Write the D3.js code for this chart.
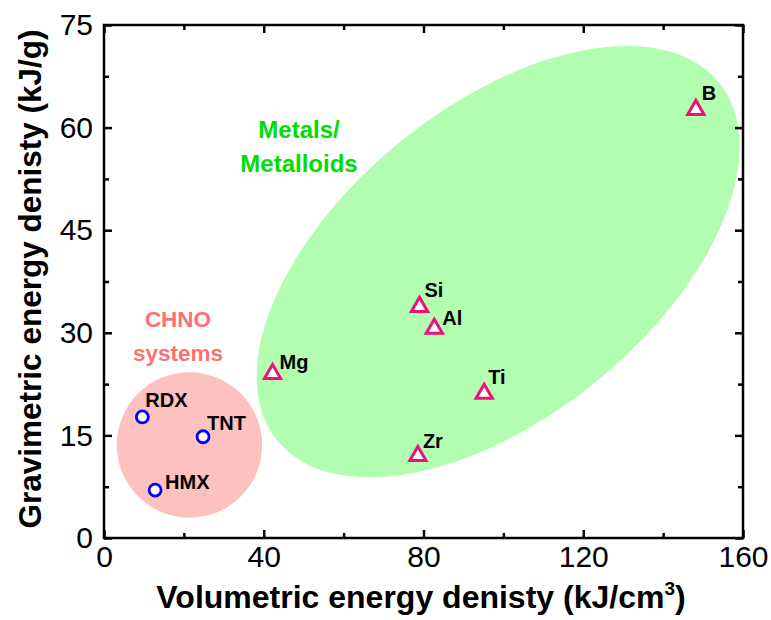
<!DOCTYPE html>
<html>
<head>
<meta charset="utf-8">
<script src="https://cdn.jsdelivr.net/npm/d3@7"></script>
<style>
  body { margin: 0; background: #fff; }
  svg text { font-family: Arial, "Liberation Sans", sans-serif; }
</style>
</head>
<body>
<div id="chart"></div>
<script>
const w = 771, h = 620;
const margin = {top: 25, right: 28, bottom: 82, left: 104};

// CHNO explosives: volumetric (kJ/cm3) and gravimetric (kJ/g)
const chnoNames = ['RDX', 'TNT', 'HMX'];
const chnoVol = [9.6, 24.8, 12.8];
const chnoGrav = [17.7, 14.8, 7.0];

// metals / metalloids
const metalNames = ['Mg', 'Si', 'Al', 'Ti', 'Zr', 'B'];
const metalVol = [42.2, 79.0, 82.7, 95.2, 78.6, 148.2];
const metalGrav = [24.3, 34.1, 30.9, 21.4, 12.3, 62.9];

const xTicks = [0, 40, 80, 120, 160];
const yTicks = [0, 15, 30, 45, 60, 75];

// group shading (centres in data units, radii in x-units, angle in deg)
const groupShapes = [
  {cx: 21.4, cy: 13.6, rx: 18.2, ry: 18.2, angle: 0, fill: '#fdc1c0'},
  {cx: 98.7, cy: 40.4, rx: 71.2, ry: 38.8, angle: -39, fill: '#b3fdb0'}
];

// label nudges (px) for each point name
const nudge = {
  RDX: [3, -10], TNT: [4, -7], HMX: [10, -1],
  Mg: [7, -3], Si: [5, -8], Al: [8, -2], Ti: [4, -8], Zr: [5, -6], B: [6, -8]
};

const svg = d3.select('#chart').append('svg')
  .attr('width', w).attr('height', h);

const xScale = d3.scaleLinear().domain([0, 160]).range([margin.left, w - margin.right]);
const yScale = d3.scaleLinear().domain([0, 75]).range([h - margin.bottom, margin.top]);
const xUnit = xScale(1) - xScale(0);

// shaded groups
svg.selectAll('ellipse.group')
  .data(groupShapes)
  .enter()
  .append('ellipse')
  .attr('class', 'group')
  .attr('cx', 0).attr('cy', 0)
  .attr('rx', d => d.rx * xUnit)
  .attr('ry', d => d.ry * xUnit)
  .attr('transform', d => `translate(${xScale(d.cx)},${yScale(d.cy)}) rotate(${d.angle})`)
  .attr('fill', d => d.fill);

// group captions
svg.append('text')
  .attr('text-anchor', 'middle')
  .attr('fill', '#00dd00').attr('font-weight', 'bold').attr('font-size', 24)
  .selectAll('tspan').data(['Metals/', 'Metalloids']).enter().append('tspan')
  .attr('x', 299).attr('y', (d, i) => 138 + i * 34).text(d => d);

svg.append('text')
  .attr('text-anchor', 'middle')
  .attr('fill', '#ff7070').attr('font-weight', 'bold').attr('font-size', 22.5)
  .selectAll('tspan').data(['CHNO', 'systems']).enter().append('tspan')
  .attr('x', 178).attr('y', (d, i) => 327 + i * 34).text(d => d);

// axes (ticks inward, mirrored on top/right)
const xMinor = d3.range(20, 160, 40);
const yMinor = d3.range(7.5, 75, 15);

function drawAxis(axis, tr, cls) {
  const g = svg.append('g').attr('transform', tr).attr('class', cls).call(axis);
  g.select('.domain').remove();
  g.selectAll('.tick line').attr('stroke', '#000').attr('stroke-width', 2.5);
  return g;
}

const xb = drawAxis(d3.axisBottom(xScale).tickValues(xTicks).tickSize(-8).tickPadding(8),
  `translate(0,${h - margin.bottom})`, 'x-axis');
xb.selectAll('text').attr('font-size', 30).attr('fill', '#000');
drawAxis(d3.axisBottom(xScale).tickValues(xMinor).tickSize(-5).tickFormat(''),
  `translate(0,${h - margin.bottom})`, 'x-minor');
drawAxis(d3.axisTop(xScale).tickValues(xTicks).tickSize(-8).tickFormat(''),
  `translate(0,${margin.top})`, 'x-top');
drawAxis(d3.axisTop(xScale).tickValues(xMinor).tickSize(-5).tickFormat(''),
  `translate(0,${margin.top})`, 'x-top-minor');

const yl = drawAxis(d3.axisLeft(yScale).tickValues(yTicks).tickSize(-8).tickPadding(11),
  `translate(${margin.left},0)`, 'y-axis');
yl.selectAll('text').attr('font-size', 30).attr('fill', '#000');
drawAxis(d3.axisLeft(yScale).tickValues(yMinor).tickSize(-5).tickFormat(''),
  `translate(${margin.left},0)`, 'y-minor');
drawAxis(d3.axisRight(yScale).tickValues(yTicks).tickSize(-8).tickFormat(''),
  `translate(${w - margin.right},0)`, 'y-right');
drawAxis(d3.axisRight(yScale).tickValues(yMinor).tickSize(-5).tickFormat(''),
  `translate(${w - margin.right},0)`, 'y-right-minor');

svg.append('rect')
  .attr('x', margin.left).attr('y', margin.top)
  .attr('width', w - margin.left - margin.right)
  .attr('height', h - margin.top - margin.bottom)
  .attr('fill', 'none').attr('stroke', '#000').attr('stroke-width', 2.5);

// axis titles
const xt = svg.append('text')
  .attr('x', 421).attr('y', 608)
  .attr('text-anchor', 'middle').attr('font-weight', 'bold').attr('font-size', 32);
xt.append('tspan').text('Volumetric energy denisty (kJ/cm');
xt.append('tspan').attr('dy', -13).attr('font-size', 19).text('3');
xt.append('tspan').attr('dy', 13).text(')');

svg.append('text')
  .attr('transform', `translate(41,279) rotate(-90)`)
  .attr('text-anchor', 'middle').attr('font-weight', 'bold').attr('font-size', 31.5)
  .text('Gravimetric energy denisty (kJ/g)');

const chno = chnoNames.map((n, i) => ({name: n, x: chnoVol[i], y: chnoGrav[i]}));
const metals = metalNames.map((n, i) => ({name: n, x: metalVol[i], y: metalGrav[i]}));

// CHNO points
svg.selectAll('circle.chno')
  .data(chno).enter().append('circle')
  .attr('class', 'chno')
  .attr('cx', d => xScale(d.x)).attr('cy', d => yScale(d.y))
  .attr('r', 6)
  .attr('fill', '#fff').attr('stroke', '#0000ff').attr('stroke-width', 2.8);

// metal points
const tri = d3.symbol().type(d3.symbolTriangle).size(115);
svg.selectAll('path.metal')
  .data(metals).enter().append('path')
  .attr('class', 'metal')
  .attr('d', tri)
  .attr('transform', d => `translate(${xScale(d.x)},${yScale(d.y) + 2})`)
  .attr('fill', '#fff').attr('stroke', '#ee1177').attr('stroke-width', 3);

// point labels
svg.selectAll('text.pt')
  .data(chno.concat(metals)).enter().append('text')
  .attr('class', 'pt')
  .attr('x', d => xScale(d.x) + nudge[d.name][0])
  .attr('y', d => yScale(d.y) + nudge[d.name][1])
  .attr('font-size', 20).attr('font-weight', 'bold').attr('fill', '#000')
  .text(d => d.name);
</script>
</body>
</html>
